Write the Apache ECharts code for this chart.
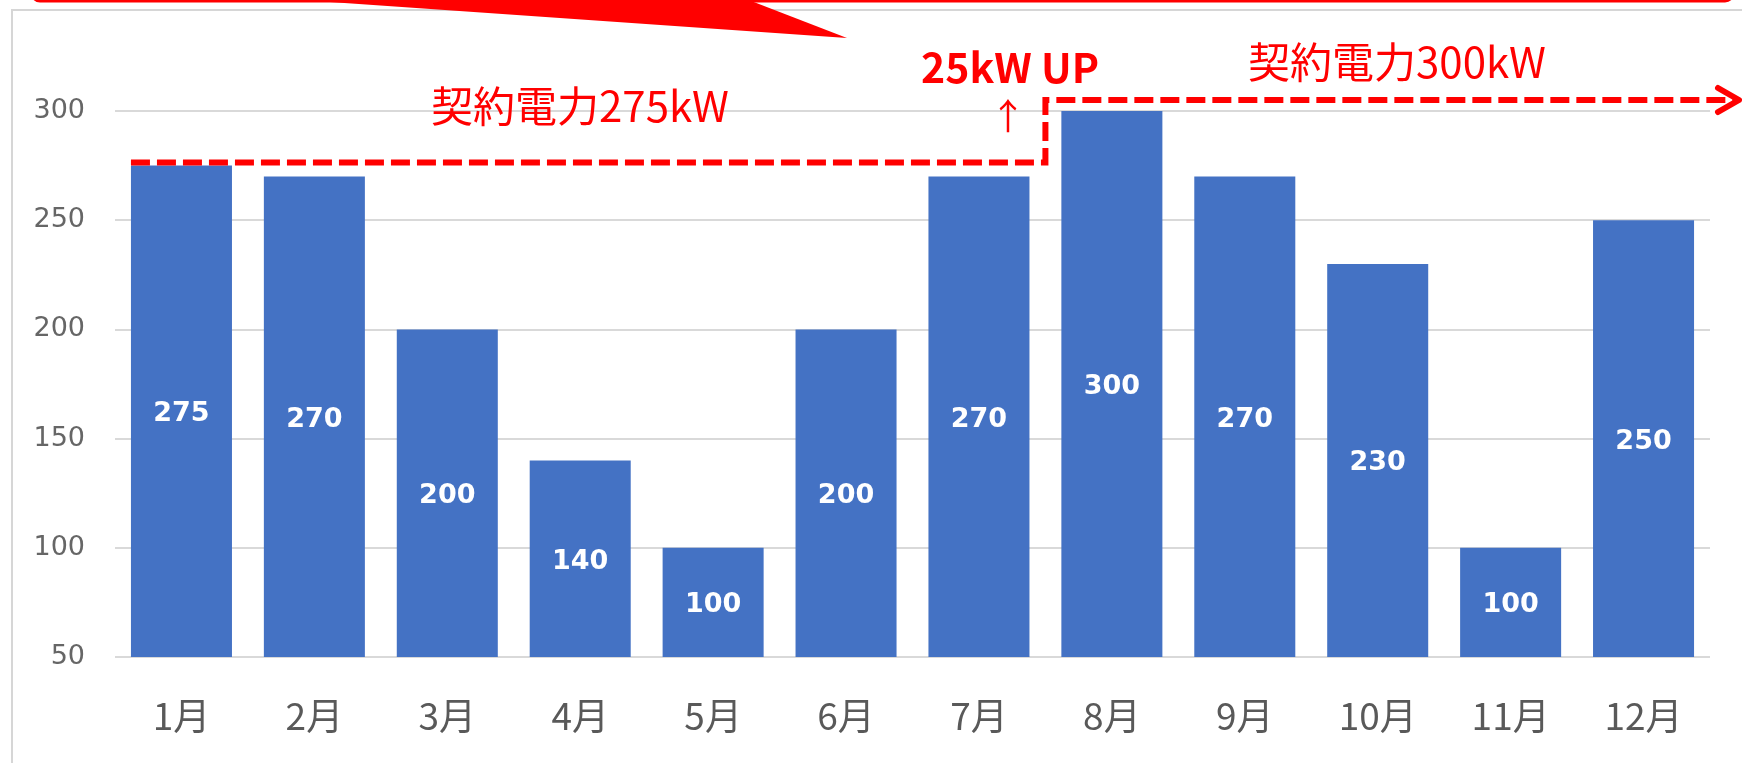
<!DOCTYPE html>
<html>
<head>
<meta charset="utf-8">
<script src="https://cdn.jsdelivr.net/npm/echarts@6/dist/echarts.min.js"></script>
<style>
  html, body { margin: 0; padding: 0; background: #fff; }
  #chart { width: 1742px; height: 763px; }
</style>
</head>
<body>
<div id="chart"></div>
<script>
// Monthly peak demand (kW) and the contracted power in force each month
const months = ['1月', '2月', '3月', '4月', '5月', '6月', '7月', '8月', '9月', '10月', '11月', '12月'];
const demandKW = [275, 270, 200, 140, 100, 200, 270, 300, 270, 230, 100, 250];
const contractKW = [275, 275, 275, 275, 275, 275, 275, 300, 300, 300, 300, 300];
const yMin = 50;
const yMax = 300;
const yStep = 50;

const RED = '#ff0000';
const CJK = '"Noto Sans CJK JP", "Noto Sans", sans-serif';

const firstContract = contractKW[0];
const lastContract = contractKW[contractKW.length - 1];

// Dashed contract-power line: steps up between months, ends in an arrow head
function renderContract(params, api) {
  const band = api.size([1, 0])[0];
  // keep the dash clear of the bar tops / the top gridline
  const lift = (i) => (contractKW[i] === firstContract ? 3 : 11);
  const pts = [];
  const p0 = api.coord([0, contractKW[0]]);
  pts.push([p0[0] - band * 0.38, p0[1] - lift(0)]);
  for (let i = 1; i < contractKW.length; i++) {
    if (contractKW[i] !== contractKW[i - 1]) {
      const a = api.coord([i, contractKW[i - 1]]);
      const b = api.coord([i, contractKW[i]]);
      const xb = a[0] - band / 2;
      pts.push([xb, a[1] - lift(i - 1)]);
      pts.push([xb, b[1] - lift(i)]);
    }
  }
  const last = contractKW.length - 1;
  const pe = api.coord([last, contractKW[last]]);
  const endX = pe[0] + band / 2 + 26;
  const endY = pe[1] - lift(last);
  pts.push([endX, endY]);
  return {
    type: 'group',
    children: [
      {
        type: 'polyline',
        shape: { points: pts },
        style: { stroke: RED, lineWidth: 6, lineDash: [19, 7], fill: null }
      },
      {
        type: 'polyline',
        shape: { points: [[endX - 18, endY - 12], [endX + 3, endY], [endX - 18, endY + 12]] },
        style: { stroke: RED, lineWidth: 6, lineCap: 'round', lineJoin: 'round', fill: null }
      }
    ]
  };
}

const chart = echarts.init(document.getElementById('chart'), null, { renderer: 'canvas' });

chart.setOption({
  animation: false,
  backgroundColor: '#ffffff',
  grid: { left: 115, right: 32, top: 111, bottom: 106, containLabel: false },
  xAxis: {
    type: 'category',
    data: months,
    axisLine: { show: false },
    axisTick: { show: false },
    axisLabel: {
      color: '#595959',
      fontFamily: CJK,
      fontSize: 37,
      lineHeight: 37,
      margin: 40
    }
  },
  yAxis: {
    type: 'value',
    min: yMin,
    max: yMax,
    interval: yStep,
    axisLine: { show: false },
    axisTick: { show: false },
    splitLine: { lineStyle: { color: '#d9d9d9', width: 2 } },
    axisLabel: {
      color: '#666666',
      fontFamily: '"DejaVu Sans", sans-serif',
      fontSize: 27,
      margin: 30
    }
  },
  series: [
    {
      name: '最大需要電力',
      type: 'bar',
      data: demandKW,
      barCategoryGap: '24%',
      itemStyle: { color: '#4472c4' },
      label: {
        show: true,
        position: 'inside',
        offset: [0, 3],
        color: '#ffffff',
        fontFamily: '"DejaVu Sans", sans-serif',
        fontWeight: 'bold',
        fontSize: 27
      },
      z: 2
    },
    {
      name: '契約電力',
      type: 'custom',
      data: [[0, contractKW[0]]],
      renderItem: renderContract,
      clip: false,
      silent: true,
      z: 5
    }
  ],
  graphic: [
    // chart frame
    {
      type: 'rect',
      z: -10,
      shape: { x: 12, y: 10, width: 1760, height: 800 },
      style: { fill: null, stroke: '#d6d6d6', lineWidth: 2 },
      silent: true
    },
    // callout box edge and its pointer
    {
      type: 'rect',
      z: 10,
      shape: { x: 32, y: -40, width: 1701, height: 41, r: 8 },
      style: { fill: '#ffffff', stroke: RED, lineWidth: 3 },
      silent: true
    },
    {
      type: 'polygon',
      z: 11,
      shape: { points: [[287, -1], [746, -1], [847, 38]] },
      style: { fill: RED },
      silent: true
    },
    // annotations
    {
      type: 'text',
      z: 20,
      style: {
        x: 580, y: 106,
        text: '契約電力' + firstContract + 'kW',
        fill: RED,
        font: 'normal 42px ' + CJK,
        textAlign: 'center',
        textVerticalAlign: 'middle'
      }
    },
    {
      type: 'text',
      z: 20,
      style: {
        x: 1397, y: 62,
        text: '契約電力' + lastContract + 'kW',
        fill: RED,
        font: 'normal 42px ' + CJK,
        textAlign: 'center',
        textVerticalAlign: 'middle'
      }
    },
    {
      type: 'text',
      z: 20,
      style: {
        x: 1010, y: 67,
        text: (lastContract - firstContract) + 'kW UP',
        fill: RED,
        font: 'bold 41px ' + CJK,
        textAlign: 'center',
        textVerticalAlign: 'middle'
      }
    },
    {
      type: 'text',
      z: 20,
      style: {
        x: 1008, y: 116,
        text: '↑',
        fill: RED,
        font: 'normal 36px ' + CJK,
        textAlign: 'center',
        textVerticalAlign: 'middle'
      }
    }
  ]
});
</script>
</body>
</html>
